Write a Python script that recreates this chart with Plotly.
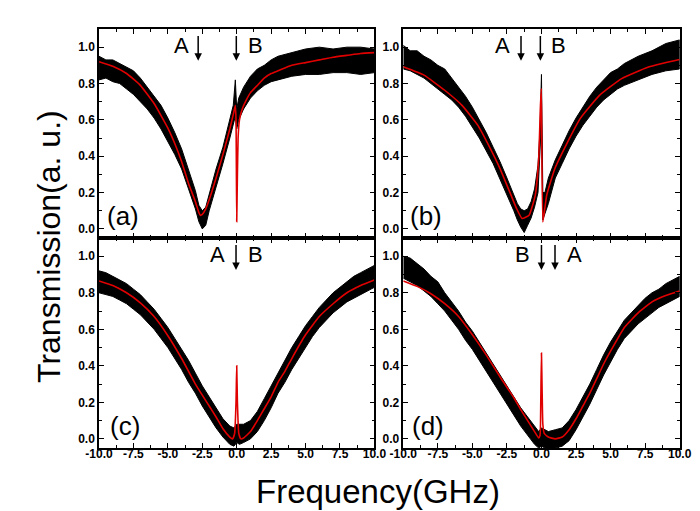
import plotly.graph_objects as go
from plotly.subplots import make_subplots

# ---------------- data ----------------
# Panel (a)
a_band_x = [-10, -9.5, -9, -8.5, -8, -7.5, -7, -6.5, -6, -5.5, -5, -4.5, -4, -3.5, -3, -2.75, -2.5, -2.25, -2,
            -1.5, -1, -0.5, -0.25, -0.1, 0.0, 0.15, 0.5, 1, 1.5, 2, 2.5, 3, 4, 5, 6, 7, 8, 9, 10]
a_band_hi = [0.95, 0.93, 0.93, 0.91, 0.89, 0.87, 0.83, 0.78, 0.73, 0.68, 0.61, 0.53, 0.44, 0.33, 0.21, 0.13, 0.10,
             0.12, 0.19, 0.33, 0.45, 0.60, 0.68, 0.82, 0.66, 0.72, 0.78, 0.84, 0.88, 0.90, 0.93, 0.95, 0.97, 0.99,
             1.00, 0.99, 1.00, 1.00, 0.99]
a_band_lo = [0.82, 0.83, 0.81, 0.80, 0.77, 0.74, 0.70, 0.66, 0.61, 0.55, 0.48, 0.41, 0.33, 0.22, 0.11, 0.04, 0.00,
             0.02, 0.10, 0.23, 0.36, 0.50, 0.58, 0.62, 0.55, 0.60, 0.66, 0.72, 0.76, 0.79, 0.81, 0.82, 0.84, 0.85,
             0.85, 0.86, 0.86, 0.85, 0.86]
a_fit_x = [-10, -9, -8, -7, -6, -5, -4.5, -4, -3.5, -3, -2.75, -2.65, -2.5, -2.25, -2, -1.5, -1, -0.5, -0.25, -0.1,
           -0.05, 0.0, 0.05, 0.1, 0.2, 0.4, 0.7, 1, 1.5, 2, 2.5, 3, 4, 5, 6, 7, 8, 9, 10]
a_fit_y = [0.92, 0.895, 0.855, 0.79, 0.69, 0.555, 0.47, 0.37, 0.25, 0.15, 0.09, 0.075, 0.08, 0.11, 0.16, 0.28, 0.41,
           0.55, 0.63, 0.68, 0.60, 0.04, 0.30, 0.50, 0.60, 0.66, 0.71, 0.75, 0.79, 0.83, 0.855, 0.87, 0.90, 0.915,
           0.93, 0.945, 0.955, 0.965, 0.97]

# Panel (b)
b_band_x = [-10, -9.5, -9, -8.5, -8, -7.5, -7, -6.5, -6, -5.5, -5, -4.5, -4, -3.5, -3, -2.5, -2, -1.75, -1.5, -1.25,
            -1, -0.75, -0.5, -0.25, -0.1, 0.0, 0.1, 0.25, 0.5, 1, 1.5, 2, 2.5, 3, 3.5, 4, 4.5, 5, 5.5, 6, 7, 8, 9, 10]
b_band_hi = [1.01, 0.98, 0.98, 0.95, 0.93, 0.90, 0.88, 0.83, 0.78, 0.73, 0.67, 0.60, 0.53, 0.45, 0.37, 0.28, 0.19,
             0.14, 0.11, 0.10, 0.11, 0.15, 0.22, 0.35, 0.55, 0.85, 0.20, 0.20, 0.28, 0.38, 0.46, 0.54, 0.61, 0.67,
             0.73, 0.78, 0.82, 0.86, 0.88, 0.91, 0.95, 0.98, 1.02, 1.04]
b_band_lo = [0.88, 0.87, 0.85, 0.83, 0.80, 0.77, 0.74, 0.71, 0.67, 0.62, 0.56, 0.50, 0.43, 0.36, 0.28, 0.19, 0.10,
             0.05, 0.01, -0.02, 0.02, 0.06, 0.12, 0.20, 0.40, 0.60, 0.05, 0.08, 0.14, 0.28, 0.36, 0.44, 0.51, 0.57,
             0.62, 0.67, 0.71, 0.74, 0.77, 0.79, 0.82, 0.85, 0.87, 0.88]
b_fit_x = [-10, -8.5, -7, -5.75, -4.6, -3.7, -3, -2.3, -1.8, -1.4, -0.9, -0.45, -0.2, -0.08, -0.01, 0.1, 0.38, 0.96,
           1.9, 2.8, 4.2, 5.8, 7.7, 10]
b_fit_y = [0.892, 0.846, 0.763, 0.68, 0.57, 0.442, 0.332, 0.204, 0.112, 0.057, 0.075, 0.185, 0.387, 0.662, 0.772,
           0.038, 0.185, 0.33, 0.479, 0.607, 0.735, 0.827, 0.89, 0.932]

# Panel (c)
c_band_x = [-10, -9.5, -9, -8.5, -8, -7.5, -7, -6.5, -6, -5.5, -5, -4.5, -4, -3.5, -3, -2.5, -2, -1.5, -1, -0.5,
            -0.2, 0, 0.2, 0.5, 1, 1.5, 2, 2.5, 3, 3.5, 4, 4.5, 5, 5.5, 6, 6.5, 7, 7.5, 8, 8.5, 9, 9.5, 10]
c_band_hi = [0.92, 0.91, 0.89, 0.87, 0.85, 0.82, 0.79, 0.75, 0.71, 0.66, 0.61, 0.55, 0.49, 0.43, 0.36, 0.29, 0.23,
             0.17, 0.11, 0.07, 0.06, 0.08, 0.08, 0.08, 0.10, 0.15, 0.22, 0.29, 0.36, 0.43, 0.50, 0.56, 0.62, 0.67,
             0.72, 0.76, 0.80, 0.83, 0.86, 0.89, 0.91, 0.93, 0.95]
c_band_lo = [0.80, 0.79, 0.78, 0.76, 0.74, 0.71, 0.68, 0.64, 0.60, 0.55, 0.50, 0.44, 0.38, 0.31, 0.25, 0.18, 0.12,
             0.06, 0.01, -0.03, -0.04, -0.02, -0.03, -0.02, 0.00, 0.04, 0.10, 0.17, 0.25, 0.31, 0.38, 0.44, 0.50,
             0.56, 0.61, 0.65, 0.69, 0.72, 0.75, 0.77, 0.79, 0.81, 0.83]
c_fit_x = [-10, -9, -8, -7, -6, -5, -4, -3, -2, -1.5, -1, -0.5, -0.3, -0.15, -0.05, 0, 0.05, 0.15, 0.3, 0.5, 1,
           1.5, 2, 2.5, 3, 3.5, 4, 5, 6, 7, 8, 9, 10]
c_fit_y = [0.865, 0.84, 0.80, 0.745, 0.67, 0.565, 0.44, 0.30, 0.18, 0.12, 0.055, 0.01, 0.0, 0.03, 0.2, 0.4, 0.2,
           0.03, 0.0, 0.005, 0.04, 0.10, 0.165, 0.23, 0.31, 0.37, 0.44, 0.57, 0.67, 0.74, 0.80, 0.84, 0.87]

# Panel (d)
d_band_x = [-10, -9.5, -9, -8.5, -8, -7.5, -7, -6.5, -6, -5.5, -5, -4.5, -4, -3.5, -3, -2.5, -2, -1.5, -1, -0.5,
            -0.2, 0, 0.25, 0.5, 1, 1.5, 2, 2.5, 3, 3.5, 4, 4.5, 5, 5.5, 6, 6.5, 7, 7.5, 8, 8.5, 9, 9.5, 10]
d_band_hi = [1.00, 0.99, 0.96, 0.93, 0.89, 0.86, 0.80, 0.75, 0.70, 0.64, 0.59, 0.53, 0.47, 0.41, 0.35, 0.29, 0.23,
             0.17, 0.12, 0.07, 0.04, 0.06, 0.05, 0.04, 0.05, 0.06, 0.10, 0.16, 0.23, 0.30, 0.38, 0.46, 0.53, 0.59,
             0.65, 0.69, 0.73, 0.77, 0.80, 0.82, 0.85, 0.87, 0.89]
d_band_lo = [0.88, 0.86, 0.84, 0.81, 0.78, 0.74, 0.70, 0.65, 0.60, 0.54, 0.49, 0.43, 0.37, 0.31, 0.25, 0.19, 0.13,
             0.07, 0.02, -0.03, -0.05, -0.04, -0.05, -0.05, -0.05, -0.04, -0.01, 0.05, 0.12, 0.19, 0.27, 0.35, 0.42,
             0.49, 0.55, 0.59, 0.63, 0.66, 0.69, 0.72, 0.74, 0.76, 0.78]
d_fit_x = [-10, -9, -8, -7, -6, -5, -4, -3, -2, -1.5, -1, -0.5, -0.2, -0.1, -0.05, 0, 0.05, 0.1, 0.2, 0.5, 1, 1.5,
           2, 2.5, 3, 3.5, 4, 4.5, 5, 6, 7, 8, 9, 10]
d_fit_y = [0.865, 0.835, 0.795, 0.74, 0.67, 0.57, 0.46, 0.34, 0.225, 0.16, 0.10, 0.04, 0.005, 0.02, 0.2, 0.47,
           0.25, 0.08, 0.03, 0.01, 0.0, 0.01, 0.05, 0.11, 0.18, 0.25, 0.33, 0.41, 0.48, 0.61, 0.69, 0.75, 0.785, 0.81]

panel_labels = ["(a)", "(b)", "(c)", "(d)"]
panel_label_x = [-9.58, -9.65, -9.37, -9.51]
# marker letters and arrow positions per panel
letters = [[("A", -3.99), ("B", 1.33)], [("A", -2.80), ("B", 1.20)],
           [("A", -1.38), ("B", 1.35)], [("B", -1.36), ("A", 2.36)]]
arrows = [[-2.80, -0.03], [-1.48, -0.08], [-0.05], [0.0, 0.98]]

x_ticks = [-10, -7.5, -5, -2.5, 0, 2.5, 5, 7.5, 10]
x_tick_text = ["-10.0", "-7.5", "-5.0", "-2.5", "0.0", "2.5", "5.0", "7.5", "10.0"]
y_ticks = [0.0, 0.2, 0.4, 0.6, 0.8, 1.0]
y_tick_text = ["0.0", "0.2", "0.4", "0.6", "0.8", "1.0"]

# ---------------- figure ----------------
FONT = "Liberation Sans, Arial, Helvetica, sans-serif"
fig = make_subplots(rows=2, cols=2)

panels = [
    (a_band_x, a_band_hi, a_band_lo, a_fit_x, a_fit_y, 1, 1),
    (b_band_x, b_band_hi, b_band_lo, b_fit_x, b_fit_y, 1, 2),
    (c_band_x, c_band_hi, c_band_lo, c_fit_x, c_fit_y, 2, 1),
    (d_band_x, d_band_hi, d_band_lo, d_fit_x, d_fit_y, 2, 2),
]
for bx, bh, bl, fx, fy, r, c in panels:
    fig.add_trace(go.Scatter(x=bx + bx[::-1], y=bh + bl[::-1], fill="toself", fillcolor="black",
                             mode="lines", line=dict(color="black", width=1), showlegend=False,
                             hoverinfo="skip"), row=r, col=c)
    fig.add_trace(go.Scatter(x=fx, y=fy, mode="lines", line=dict(color="#e00000", width=1.6, shape="spline",
                                                                 smoothing=0.4),
                             showlegend=False), row=r, col=c)

W, H = 700, 511
xdom = [[80 / W, 366 / W], [396 / W, 683 / W]]
ydom = [[1 - 230 / H, 1 - 21 / H], [1 - 440 / H, 1 - 230 / H]]

axis_common = dict(showline=True, linecolor="black", linewidth=1.5, mirror="ticks", ticks="inside",
                   ticklen=5, tickwidth=1.2, tickcolor="black", showgrid=False, zeroline=False,
                   tickfont=dict(family=FONT, size=12, color="black", weight="bold"))
for i in range(4):
    r, c = i // 2, i % 2
    xn = "xaxis" if i == 0 else f"xaxis{i + 1}"
    yn = "yaxis" if i == 0 else f"yaxis{i + 1}"
    fig.layout[xn].update(domain=xdom[c], range=[-10, 10], tickvals=x_ticks, ticktext=x_tick_text,
                          showticklabels=(r == 1), ticklabelstandoff=-6,
                          minor=dict(ticks="inside", ticklen=3, dtick=1.25, tick0=0, tickcolor="black"),
                          **axis_common)
    fig.layout[yn].update(domain=ydom[r], range=[-0.05, 1.1], tickvals=y_ticks, ticktext=y_tick_text,
                          minor=dict(ticks="inside", ticklen=3, dtick=0.1, tick0=0, tickcolor="black"),
                          **axis_common)

annotations = []
for i in range(4):
    xr = "x" if i == 0 else f"x{i + 1}"
    yr = "y" if i == 0 else f"y{i + 1}"
    annotations.append(dict(x=panel_label_x[i], y=0.07, xref=xr, yref=yr, text=panel_labels[i],
                            showarrow=False, xanchor="left", yanchor="middle",
                            font=dict(family=FONT, size=26, color="black")))
    for txt, lx in letters[i]:
        annotations.append(dict(x=lx, y=1.01, xref=xr, yref=yr, text=txt, showarrow=False,
                                xanchor="center", yanchor="middle",
                                font=dict(family=FONT, size=22, color="black")))
    for ax_ in arrows[i]:
        annotations.append(dict(x=ax_, y=0.925, xref=xr, yref=yr, ax=ax_, ay=1.07, axref=xr, ayref=yr,
                                text="", showarrow=True, arrowhead=2, arrowsize=1.0, arrowwidth=1.5,
                                arrowcolor="black"))

annotations.append(dict(x=28 / W, y=1 - 238 / H, xref="paper", yref="paper", text="Transmission(a. u.)",
                        textangle=-90, showarrow=False, xanchor="center", yanchor="middle",
                        font=dict(family=FONT, size=32, color="black")))
annotations.append(dict(x=370 / W, y=1 - 483 / H, xref="paper", yref="paper", text="Frequency(GHz)",
                        showarrow=False, xanchor="center", yanchor="middle",
                        font=dict(family=FONT, size=33, color="black")))

fig.update_layout(width=W, height=H, margin=dict(l=0, r=0, t=0, b=0), paper_bgcolor="white",
                  plot_bgcolor="white", annotations=annotations, showlegend=False)

fig.write_html("out.html")
